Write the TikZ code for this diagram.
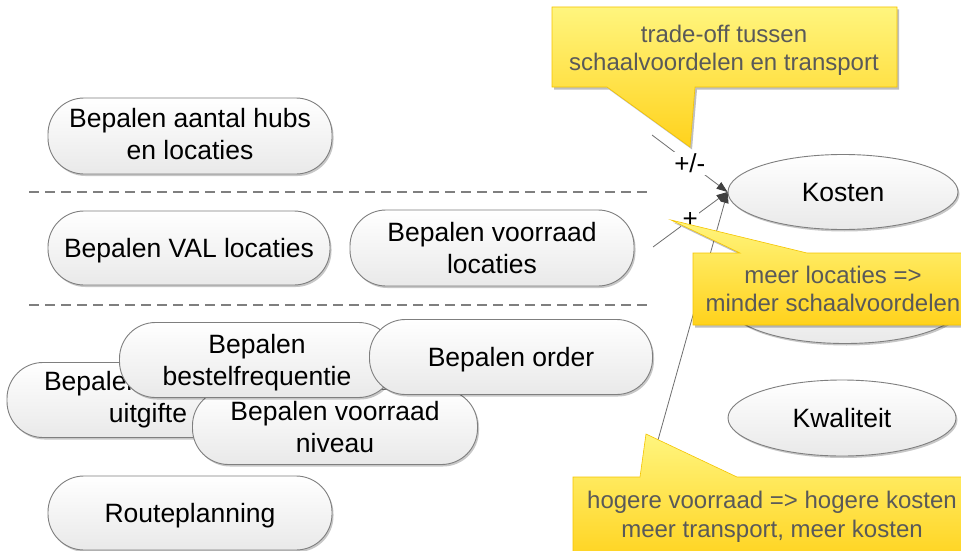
\documentclass[tikz,border=0pt]{standalone}
\usepackage{fontspec}
\setmainfont{Liberation Sans}
\usetikzlibrary{shapes.geometric,shadows,arrows.meta}

\definecolor{bordergray}{HTML}{7F7F7F}
\definecolor{linegray}{HTML}{6E6E6E}
\definecolor{tipgray}{HTML}{404040}
\definecolor{calltext}{HTML}{595959}
\definecolor{yellowtop}{HTML}{FFF57E}
\definecolor{yellowbot}{HTML}{FFD21C}
\definecolor{calloutline}{HTML}{F4C400}
\definecolor{nodebot}{HTML}{E9E9E9}

\begin{document}
\begin{tikzpicture}[x=1pt,y=-1pt,
  softshadow/.style={drop shadow={shadow xshift=1.5pt,shadow yshift=-2pt,opacity=0.22,fill=black}},
  procbox/.style={draw=bordergray,line width=0.9pt,rounded corners=36pt,
    top color=white,bottom color=nodebot,minimum width=284pt,minimum height=76pt,
    align=center,font=\fontsize{26.5}{32}\selectfont,inner sep=0pt,softshadow},
  oneline/.style={text height=19.4pt,text depth=0pt},
  goal/.style={ellipse,draw=bordergray,line width=0.9pt,top color=white,bottom color=nodebot,
    minimum width=230pt,minimum height=75pt,inner sep=0pt,
    font=\fontsize{26.5}{32}\selectfont,softshadow,text height=19.4pt,text depth=0pt},
  conn/.style={draw=linegray,line width=0.8pt,-{Triangle[length=11pt,width=8pt,color=tipgray]}},
  lbl/.style={fill=white,inner sep=1.5pt,font=\fontsize{26}{30}\selectfont},
  separator/.style={draw=bordergray,line width=1.1pt,dash pattern=on 10pt off 6pt},
  callout/.style={draw=calloutline,line width=0.6pt,top color=yellowtop,bottom color=yellowbot,
    drop shadow={shadow xshift=2pt,shadow yshift=-2.5pt,opacity=0.25,fill=black}},
  calltxt/.style={align=center,text=calltext,font=\fontsize{24}{28.5}\selectfont,inner sep=0pt}
]
\useasboundingbox (0,0) rectangle (961,551);
\fill[white] (0,0) rectangle (961,551);

% separators
\draw[separator] (29,192) -- (648,192);
\draw[separator] (29,305) -- (648,305);

% process nodes
\node[procbox,text depth=4pt] (hubs) at (190,136) {Bepalen aantal hubs\\en locaties};
\node[procbox,oneline,minimum width=282pt,minimum height=74pt] (val) at (189,248) {Bepalen VAL locaties};
\node[procbox] (vloc) at (492,248) {Bepalen voorraad\\locaties};
\node[procbox,minimum width=282pt,minimum height=75pt] (uitg) at (148,400) {\makebox[208pt][l]{Bepalen}\\uitgifte};
\node[procbox,minimum width=285pt,minimum height=75pt] (niveau) at (335,427) {Bepalen voorraad\\niveau};
\node[procbox,text depth=0pt,minimum width=275pt,minimum height=75pt] (freq) at (257,360) {Bepalen\\bestelfrequentie};
\node[procbox,oneline,minimum width=283pt,minimum height=75pt] (order) at (511,357) {Bepalen order};
\node[procbox,oneline,minimum height=74pt] (route) at (190,513) {Routeplanning};

% goals
\node[goal] (kosten) at (843,192) {Kosten};
\node[goal] (tijd) at (845,306) {};
\node[goal,minimum width=228pt,minimum height=76pt] (kwal) at (842,418) {Kwaliteit};

% connector start points
\coordinate (s1) at (652,135);
\coordinate (s2) at (653,247);
\coordinate (s3) at (658,440);

\draw[conn] (s1) -- node[lbl,pos=0.5] {+/-} (kosten.west);
\draw[conn] (s2) -- node[lbl,pos=0.5] {+} (kosten.west);
\draw[conn] (s3) -- node[lbl,pos=0.64,xshift=-4pt] {-} (kosten.west);

% callouts
\path[callout] (552,7) -- (897,7) -- (897,87) -- (695,87) -- (690,147) -- (607,87) -- (552,87) -- cycle;
\node[calltxt] (c1) at (724,50.5) {trade-off tussen\\schaalvoordelen en transport};

\path[callout] (693,253) -- (740,253) -- (671,220) -- (807,253) -- (975,253) -- (975,325) -- (693,325) -- cycle;
\node[calltxt] (c2) at (833,289) {meer locaties =>\\minder schaalvoordelen};

\path[callout] (573,477) -- (640,477) -- (646,434) -- (737,477) -- (975,477) -- (975,565) -- (573,565) -- cycle;
\node[calltxt] (c3) at (772,517) {hogere voorraad => hogere kosten\\meer transport, meer kosten};
\end{tikzpicture}
\end{document}
